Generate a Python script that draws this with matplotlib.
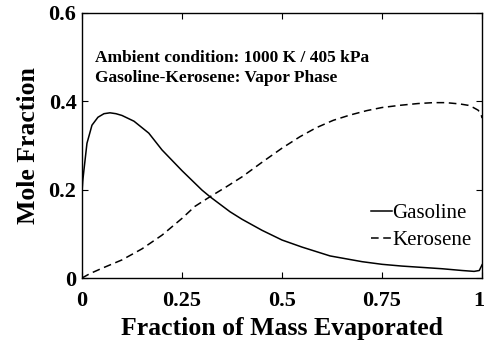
import numpy as np
import matplotlib.pyplot as plt
from matplotlib.transforms import ScaledTranslation

# values
gas_x = [0, 0.0005, 0.002, 0.005, 0.0125, 0.025, 0.04, 0.055, 0.07, 0.085, 0.1, 0.13,
         0.167, 0.2, 0.25, 0.3, 0.32, 0.37, 0.4, 0.45, 0.5, 0.55, 0.62, 0.7, 0.75,
         0.8, 0.85, 0.9, 0.95, 0.98, 0.993, 1.0]
gas_y = [0, 0.2, 0.22, 0.245, 0.305, 0.346, 0.364, 0.372, 0.374, 0.372, 0.368, 0.355,
         0.328, 0.29, 0.243, 0.199, 0.184, 0.150, 0.133, 0.108, 0.086, 0.070, 0.050,
         0.037, 0.031, 0.027, 0.024, 0.021, 0.017, 0.015, 0.017, 0.03]

ker_x = [0, 0.02, 0.05, 0.1, 0.15, 0.2, 0.25, 0.282, 0.32, 0.36, 0.4, 0.45, 0.5,
         0.545, 0.585, 0.628, 0.67, 0.712, 0.75, 0.795, 0.84, 0.878, 0.91, 0.945,
         0.965, 0.978, 0.99, 0.997, 1.0]
ker_y = [0, 0.01, 0.022, 0.041, 0.066, 0.097, 0.135, 0.162, 0.184, 0.206, 0.229,
         0.262, 0.294, 0.320, 0.340, 0.357, 0.369, 0.379, 0.386, 0.391, 0.395,
         0.397, 0.397, 0.394, 0.391, 0.386, 0.380, 0.372, 0.362]

xticks = [0, 0.25, 0.5, 0.75, 1]
xtick_labels = ['0', '0.25', '0.5', '0.75', '1']
yticks = [0, 0.2, 0.4, 0.6]
ytick_labels = ['0', '0.2', '0.4', '0.6']

plt.rcParams['font.family'] = ['Liberation Serif', 'DejaVu Serif']

fig = plt.figure(figsize=(4.85, 3.49), dpi=100)
ax = fig.add_axes([0.169, 0.2034, 0.825, 0.7594])

ax.plot(gas_x, gas_y, color='black', lw=1.1, label='Gasoline')
ax.plot(ker_x, ker_y, color='black', lw=1.1, ls=(0, (5, 3)), label='Kerosene')

ax.set_xlim(0, 1)
ax.set_ylim(0, 0.6)
ax.set_xticks(xticks)
ax.set_xticklabels(xtick_labels, fontweight='bold', fontsize=16)
ax.set_yticks(yticks)
ax.set_yticklabels(ytick_labels, fontweight='bold', fontsize=16)
ax.tick_params(direction='in', length=4, width=0.8, top=True, right=True)
ax.tick_params(axis='x', pad=9)
ax.tick_params(axis='y', pad=4)
for s in ax.spines.values():
    s.set_linewidth(1.0)

# nudge the last x label so it stays inside the figure
last = ax.get_xticklabels()[-1]
last.set_transform(last.get_transform() + ScaledTranslation(-2 / 72, 0, fig.dpi_scale_trans))

ax.set_xlabel('Fraction of Mass Evaporated', fontsize=18.5, fontweight='bold', labelpad=5)
ax.set_ylabel('Mole Fraction', fontsize=18.5, fontweight='bold', labelpad=6)

ax.text(0.032, 0.83, 'Ambient condition: 1000 K / 405 kPa', transform=ax.transAxes,
        fontsize=12.5, fontweight='bold', va='center')
ax.text(0.032, 0.755, 'Gasoline-Kerosene: Vapor Phase', transform=ax.transAxes,
        fontsize=12.5, fontweight='bold', va='center')

ax.legend(loc='lower right', bbox_to_anchor=(1.01, 0.05), frameon=False, fontsize=15,
          handlelength=1.0, handletextpad=0.0, labelspacing=0.35, borderpad=0.2)

fig.savefig('out.png', dpi=100)
